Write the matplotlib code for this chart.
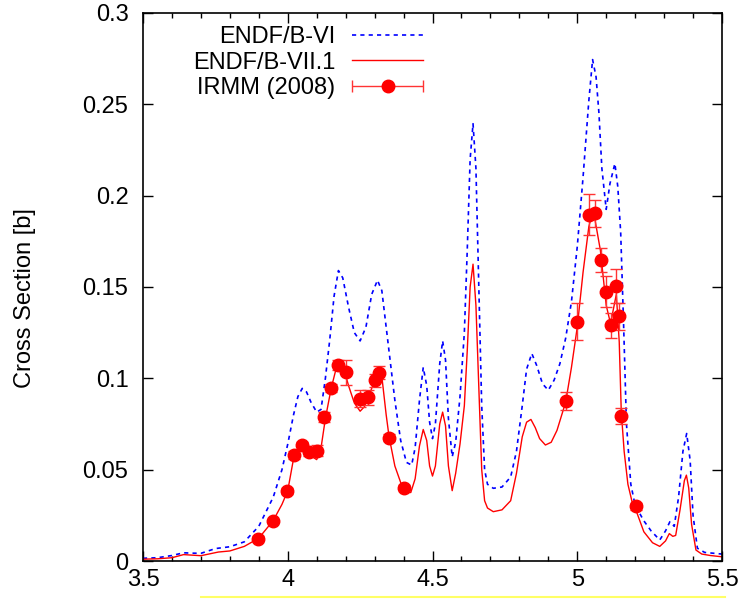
import numpy as np
import matplotlib
matplotlib.use("Agg")
import matplotlib.pyplot as plt
from matplotlib.ticker import MultipleLocator, FuncFormatter
from matplotlib.container import ErrorbarContainer
from matplotlib.legend_handler import HandlerErrorbar
from matplotlib.lines import Line2D

plt.rcParams['font.family'] = ['Liberation Sans', 'DejaVu Sans']

# ENDF/B-VI (blue dashed)
e_vi = [3.50, 3.55, 3.60, 3.64, 3.67, 3.70, 3.75, 3.80, 3.85, 3.90, 3.95, 3.98,
        4.00, 4.02, 4.035, 4.05, 4.065, 4.08, 4.10, 4.115, 4.13, 4.145, 4.16,
        4.175, 4.19, 4.21, 4.23, 4.25, 4.27, 4.29, 4.31, 4.325, 4.34, 4.355,
        4.37, 4.39, 4.41, 4.428, 4.44, 4.455, 4.468, 4.48, 4.49, 4.50, 4.51,
        4.525, 4.535, 4.545, 4.555, 4.568, 4.58, 4.595, 4.61, 4.62, 4.63, 4.64,
        4.65, 4.66, 4.67, 4.68, 4.69, 4.71, 4.74, 4.77, 4.79, 4.81, 4.825,
        4.843, 4.86, 4.88, 4.90, 4.92, 4.94, 4.96, 4.98, 5.00, 5.02, 5.04,
        5.053, 5.065, 5.075, 5.085, 5.10, 5.113, 5.13, 5.14, 5.15, 5.16, 5.17,
        5.185, 5.20, 5.23, 5.255, 5.285, 5.305, 5.32, 5.335, 5.35, 5.365,
        5.378, 5.39, 5.40, 5.415, 5.44, 5.50]
xs_vi = [0.0015, 0.0018, 0.0030, 0.0045, 0.0043, 0.0042, 0.0068, 0.0078, 0.0105,
         0.0190, 0.0350, 0.050, 0.0640, 0.0800, 0.0900, 0.0945, 0.0925, 0.0870,
         0.0815, 0.0830, 0.100, 0.121, 0.145, 0.1590, 0.155, 0.139, 0.125,
         0.1205, 0.128, 0.146, 0.1537, 0.148, 0.128, 0.108, 0.088, 0.066,
         0.0540, 0.0525, 0.062, 0.088, 0.1060, 0.096, 0.076, 0.0670, 0.075,
         0.108, 0.1205, 0.110, 0.078, 0.0570, 0.065, 0.090, 0.125, 0.170,
         0.220, 0.2394, 0.215, 0.150, 0.085, 0.050, 0.042, 0.0398, 0.0405,
         0.0460, 0.0600, 0.0850, 0.1050, 0.1136, 0.107, 0.0970, 0.0935,
         0.0990, 0.108, 0.122, 0.142, 0.172, 0.210, 0.252, 0.2745, 0.265,
         0.245, 0.215, 0.1925, 0.2066, 0.2176, 0.205, 0.180, 0.130, 0.075,
         0.042, 0.0305, 0.0220, 0.0165, 0.0115, 0.0165, 0.0215, 0.0190,
         0.035, 0.060, 0.0698, 0.055, 0.025, 0.0070, 0.0047, 0.0038]

# ENDF/B-VII.1 (red solid)
e_vii = [3.50, 3.55, 3.60, 3.64, 3.67, 3.70, 3.76, 3.80, 3.85, 3.90, 3.95, 3.98,
         4.00, 4.02, 4.035, 4.05, 4.07, 4.09, 4.10, 4.115, 4.13, 4.15, 4.165,
         4.18, 4.195, 4.21, 4.23, 4.25, 4.265, 4.28, 4.30, 4.315, 4.325, 4.34,
         4.35, 4.37, 4.39, 4.41, 4.425, 4.44, 4.455, 4.468, 4.48, 4.49, 4.50,
         4.51, 4.525, 4.535, 4.545, 4.555, 4.568, 4.58, 4.595, 4.61, 4.62,
         4.63, 4.64, 4.65, 4.66, 4.67, 4.68, 4.69, 4.71, 4.74, 4.77, 4.79,
         4.81, 4.825, 4.84, 4.855, 4.87, 4.89, 4.91, 4.93, 4.96, 4.98, 5.00,
         5.02, 5.04, 5.05, 5.06, 5.08, 5.10, 5.115, 5.125, 5.135, 5.145,
         5.152, 5.162, 5.175, 5.19, 5.20, 5.23, 5.26, 5.285, 5.305, 5.318,
         5.33, 5.34, 5.355, 5.37, 5.377, 5.385, 5.395, 5.41, 5.43, 5.46, 5.50]
xs_vii = [0.0010, 0.0012, 0.0018, 0.0035, 0.0032, 0.0029, 0.0049, 0.0055, 0.0080,
          0.0125, 0.0222, 0.031, 0.0385, 0.0560, 0.0610, 0.0625, 0.0600,
          0.0565, 0.0555, 0.062, 0.078, 0.0945, 0.104, 0.1075, 0.1045, 0.096,
          0.0865, 0.0820, 0.0845, 0.0905, 0.0985, 0.1030, 0.1010, 0.080, 0.068,
          0.052, 0.043, 0.0375, 0.0375, 0.045, 0.063, 0.0720, 0.066, 0.052,
          0.0465, 0.052, 0.075, 0.0815, 0.074, 0.052, 0.0385, 0.048, 0.064,
          0.085, 0.115, 0.150, 0.1625, 0.140, 0.095, 0.050, 0.033, 0.029,
          0.0270, 0.0280, 0.0330, 0.0480, 0.0680, 0.0760, 0.0775, 0.073,
          0.0670, 0.0635, 0.0650, 0.0715, 0.0870, 0.106, 0.128, 0.158, 0.183,
          0.1895, 0.188, 0.170, 0.140, 0.1300, 0.1380, 0.146, 0.120, 0.082,
          0.060, 0.042, 0.032, 0.0290, 0.0160, 0.0100, 0.0080, 0.0110, 0.0150,
          0.0135, 0.0140, 0.028, 0.044, 0.0470, 0.040, 0.020, 0.0060, 0.0038,
          0.0030, 0.0023]

# IRMM (2008) measurement
e_irmm = [3.898, 3.948, 3.998, 4.022, 4.049, 4.075, 4.100, 4.124, 4.148, 4.175,
          4.200, 4.250, 4.277, 4.300, 4.314, 4.349, 4.400, 4.960, 5.000, 5.040,
          5.061, 5.082, 5.100, 5.118, 5.134, 5.144, 5.150, 5.202]
xs_irmm = [0.0123, 0.0220, 0.0382, 0.0580, 0.0633, 0.0594, 0.0604, 0.0790,
           0.0947, 0.1073, 0.1032, 0.0889, 0.0896, 0.0990, 0.1030, 0.0675,
           0.0402, 0.0877, 0.1310, 0.1895, 0.1905, 0.1650, 0.1475, 0.1290,
           0.1505, 0.1340, 0.0793, 0.0300]
err_irmm = [0.0012, 0.0012, 0.0015, 0.0020, 0.0020, 0.0020, 0.0030, 0.0027,
            0.0024, 0.0027, 0.0066, 0.0046, 0.0040, 0.0035, 0.0035, 0.0020,
            0.0015, 0.0050, 0.0100, 0.0112, 0.0074, 0.0066, 0.0085, 0.0070,
            0.0092, 0.0075, 0.0043, 0.0020]

FS = 17

fig = plt.figure(figsize=(7.42, 5.99), dpi=100, facecolor='w')
ax = fig.add_axes([143/742, 38/599, 579/742, 548/599])

line_vi, = ax.plot(e_vi, xs_vi, color='#0000ff', lw=1.2, linestyle=(0, (2.5, 2.5)),
                   label='ENDF/B-VI')
line_vii, = ax.plot(e_vii, xs_vii, color='#ff0000', lw=1.0, label='ENDF/B-VII.1')
ax.errorbar(e_irmm, xs_irmm, yerr=err_irmm, fmt='o', color='#ff0000', ms=9,
            ecolor='#ff3333', elinewidth=1.0, capsize=4, capthick=1.0, zorder=3)

# legend proxy with horizontal bar like the original
proxy = ax.errorbar([np.nan], [np.nan], xerr=[0.0], fmt='o', color='#ff0000', ms=9,
                    ecolor='#ff3333', elinewidth=1.0, capsize=4, capthick=1.0,
                    label='IRMM (2008)')

ax.set_xlim(3.5, 5.5)
ax.set_ylim(0, 0.3)
ax.xaxis.set_major_locator(MultipleLocator(0.5))
ax.xaxis.set_minor_locator(MultipleLocator(0.1))
ax.yaxis.set_major_locator(MultipleLocator(0.05))
fmt = FuncFormatter(lambda v, p: '%g' % round(v, 4))
ax.xaxis.set_major_formatter(fmt)
ax.yaxis.set_major_formatter(fmt)
ax.tick_params(which='both', direction='in', top=True, right=True, width=1.0,
               labelsize=FS)
ax.tick_params(which='major', length=7)
ax.tick_params(axis='y', which='major', pad=10.5)
ax.tick_params(axis='x', which='major', pad=6)
ax.tick_params(which='minor', length=3.5)
ax.tick_params(axis='y', which='minor', left=False, right=False)
for sp in ax.spines.values():
    sp.set_linewidth(1.2)

ax.set_ylabel('Cross Section [b]', fontsize=FS)
ax.yaxis.set_label_coords(-0.185, 0.48)

leg = ax.legend(handles=[line_vi, line_vii, proxy], loc='upper right',
                bbox_to_anchor=(0.4836, 0.976), markerfirst=False, frameon=False,
                fontsize=FS, handlelength=3.0, handletextpad=0.72,
                labelspacing=0.15, borderpad=0, borderaxespad=0,
                handler_map={ErrorbarContainer: HandlerErrorbar(xerr_size=1.5)})

# faint yellow stroke under the x axis, as in the source image
fig.add_artist(Line2D([201/742, 725/742], [2/599, 2/599], transform=fig.transFigure,
                      color='#ffff66', lw=1.5))

fig.savefig('out.png', dpi=100)
